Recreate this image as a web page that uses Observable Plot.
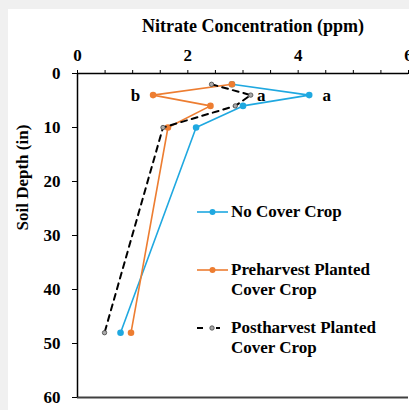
<!DOCTYPE html>
<html><head><meta charset="utf-8">
<script src="https://cdn.jsdelivr.net/npm/d3@7"></script>
<script src="https://cdn.jsdelivr.net/npm/@observablehq/plot@0.6"></script>
<style>
html,body{margin:0;padding:0;background:#f0f0f0;width:409px;height:410px;overflow:hidden;}
#wrap{position:absolute;left:8px;top:9px;width:401px;height:401px;background:#fff;font-family:"Liberation Serif","Times New Roman",serif;font-weight:bold;}
#wrap > svg{overflow:visible;position:absolute;left:0;top:0}
.leg{position:absolute;left:189px;font-size:17px;line-height:20px;display:flex;align-items:flex-start;color:#000}
.leg svg{width:34px;height:20px;flex:none;overflow:visible}
.leg div{white-space:nowrap}
</style></head><body><div id="wrap"></div>
<script>
// Data
const depths = [2, 4, 6, 10, 48];
const noCover = [2.8, 4.2, 3.0, 2.15, 0.78];
const preharvest = [2.8, 1.37, 2.41, 1.64, 0.97];
const postharvest = [2.43, 3.14, 2.86, 1.55, 0.49];
const seriesNames = ["No Cover Crop", "Preharvest Planted Cover Crop", "Postharvest Planted Cover Crop"];
const letterText = ["b", "a", "a"];
const letterX = [1.05, 3.33, 4.52];
const letterDepth = [4, 4, 4];
const xTicks = [0, 0.5, 1, 1.5, 2, 2.5, 3, 3.5, 4, 4.5, 5, 5.5, 6];
const yTicks = [0, 10, 20, 30, 40, 50, 60];

const colors = {"No Cover Crop": "#1fa8e0", "Preharvest Planted Cover Crop": "#ed7d31", "Postharvest Planted Cover Crop": "#000"};

const mk = (name, vals) => depths.map((d, i) => ({series: name, depth: d, value: vals[i]}));
const blue = mk(seriesNames[0], noCover);
const orange = mk(seriesNames[1], preharvest);
const black = mk(seriesNames[2], postharvest);
const letters = letterText.map((t, i) => ({t, x: letterX[i], y: letterDepth[i]}));

const chart = Plot.plot({
  width: 401, height: 401,
  marginLeft: 69, marginTop: 64, marginRight: 1, marginBottom: 13,
  style: {fontFamily: "'Liberation Serif', 'Times New Roman', serif", fontSize: "17px", fontWeight: "bold", background: "transparent", color: "#000", overflow: "visible"},
  x: {domain: [0, 6]},
  y: {domain: [0, 60], reverse: true},
  marks: [
    Plot.axisX({anchor: "top", ticks: xTicks, tickSize: 4, tickPadding: 9, tickFormat: d => d % 2 === 0 ? String(d) : "", label: null, fontSize: 17}),
    Plot.axisY({anchor: "left", ticks: yTicks, tickSize: 5, tickPadding: 12, label: null, fontSize: 17}),
    Plot.ruleY([60], {stroke: "#404040", strokeWidth: 2}),
    Plot.ruleY([0], {stroke: "#000", strokeWidth: 1.3}),
    Plot.ruleX([0], {stroke: "#000", strokeWidth: 1.5}),
    Plot.line(blue, {x: "value", y: "depth", stroke: colors[seriesNames[0]], strokeWidth: 1.6}),
    Plot.dot(blue, {x: "value", y: "depth", fill: colors[seriesNames[0]], r: 3.3}),
    Plot.line(orange, {x: "value", y: "depth", stroke: colors[seriesNames[1]], strokeWidth: 1.6}),
    Plot.dot(orange, {x: "value", y: "depth", fill: colors[seriesNames[1]], r: 3.3}),
    Plot.line(black, {x: "value", y: "depth", stroke: "#000", strokeWidth: 2, strokeDasharray: "6,5"}),
    Plot.dot(black, {x: "value", y: "depth", fill: "#aaa", stroke: "#444", strokeWidth: 0.8, r: 2.2}),
    Plot.text(letters, {x: "x", y: "y", text: "t", fontSize: 17, lineAnchor: "middle"}),
    Plot.text(["Nitrate Concentration (ppm)"], {text: d => d, frameAnchor: "top", dy: -47, dx: 10, fontSize: 18, lineAnchor: "middle"}),
    Plot.text(["Soil Depth (in)"], {text: d => d, frameAnchor: "left", rotate: -90, dx: -55, dy: -5, fontSize: 17, lineAnchor: "middle"})
  ]
});
const wrap = document.getElementById("wrap");
wrap.appendChild(chart);

// Legend (HTML overlay)
const legTops = [193, 251, 309];
seriesNames.forEach((name, i) => {
  const div = document.createElement("div");
  div.className = "leg";
  div.style.top = legTops[i] + "px";
  const c = colors[name];
  let sw;
  if (i < 2) {
    sw = `<svg><line x1="0" x2="31" y1="10" y2="10" stroke="${c}" stroke-width="1.6"/><circle cx="15.5" cy="10" r="3" fill="${c}"/></svg>`;
  } else {
    sw = `<svg><line x1="0" x2="23" y1="10" y2="10" stroke="#000" stroke-width="2" stroke-dasharray="6,13,4,100"/><circle cx="15" cy="10" r="2.2" fill="#aaa" stroke="#444" stroke-width="0.8"/></svg>`;
  }
  const label = i === 0 ? name : name.replace(" Cover Crop", "<br>Cover Crop");
  div.innerHTML = sw + `<div style="margin-left:0px">${label}</div>`;
  wrap.appendChild(div);
});
</script>
</body></html>
